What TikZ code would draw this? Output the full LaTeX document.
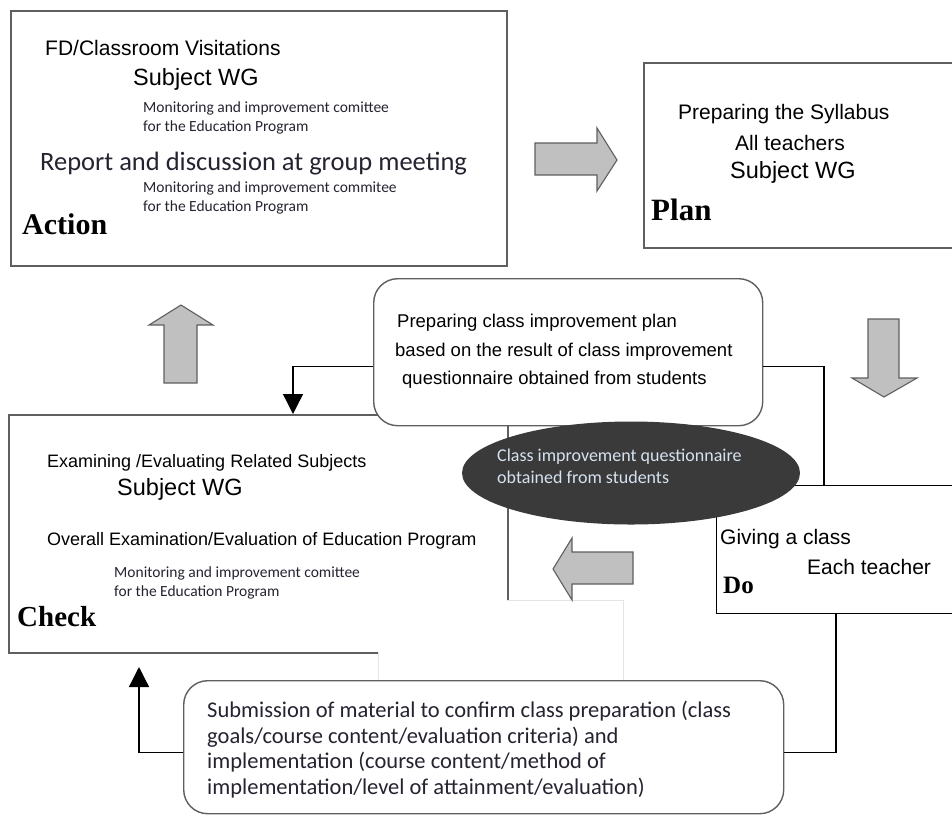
\documentclass[tikz,border=0pt]{standalone}
\usepackage{fontspec}
\setmainfont{Liberation Sans}
\newfontfamily\calfont{Carlito}
\newfontfamily\markfont{Liberation Serif}
\usetikzlibrary{arrows.meta, shapes.geometric}

\definecolor{arrowgray}{RGB}{192,192,192}
\definecolor{edgegray}{RGB}{95,95,95}
\definecolor{ovalgray}{RGB}{58,58,58}
\definecolor{ovaltext}{RGB}{214,226,240}
\definecolor{faintline}{RGB}{228,228,228}
\definecolor{caltext}{RGB}{38,34,48}

\tikzset{
  box/.style={draw=edgegray, line width=1.6pt, anchor=north west, inner sep=0pt},
  roundbox/.style={draw=edgegray, line width=1.4pt, fill=white, rounded corners=24pt, anchor=north west, inner sep=0pt},
  bigarrow/.style={draw=edgegray, line width=1.1pt, fill=arrowgray, line join=miter},
  conn/.style={line width=1.3pt},
  txt/.style={anchor=base west, inner sep=0pt, font=\fontsize{21}{25}\selectfont},
  small/.style={anchor=base west, inner sep=0pt, font=\fontsize{18}{22}\selectfont},
  wg/.style={anchor=base west, inner sep=0pt, font=\fontsize{23.5}{28}\selectfont},
  cal/.style={anchor=base west, inner sep=0pt, text=caltext, font=\calfont\fontsize{15.5}{19}\selectfont},
  phase/.style={anchor=base west, inner sep=0pt, font=\markfont\bfseries\fontsize{#1}{#1}\selectfont}
}

\begin{document}
\begin{tikzpicture}[x=1pt, y=-1pt]
  \useasboundingbox (0,0) rectangle (952,815);

  % the four PDCA boxes
  \node[box, minimum width=496pt, minimum height=255pt] (action) at (10,10) {};
  \node[box, minimum width=320pt, minimum height=185pt] (plan) at (643,62) {};
  \node[box, minimum width=499pt, minimum height=238pt] (check) at (8,414) {};
  \fill[white] (378,600) rectangle (623,682);
  \draw[faintline, line width=1pt] (507,600) -- (623,600) -- (623,682);
  \draw[faintline, line width=1pt] (378,652) -- (378,682);
  \node[box, draw=black, line width=1.3pt, minimum width=250pt, minimum height=128pt] (do) at (716,485) {};

  % big grey arrows
  \draw[bigarrow] (535,143) -- (597,143) -- (597,128) -- (617,160) -- (597,191) -- (597,175) -- (535,175) -- cycle;
  \draw[bigarrow] (868,319) -- (899,319) -- (899,378) -- (917,378) -- (884,397) -- (852,378) -- (868,378) -- cycle;
  \draw[bigarrow] (633,552) -- (572,552) -- (572,538) -- (553,569) -- (572,600) -- (572,584) -- (633,584) -- cycle;
  \draw[bigarrow] (164,383) -- (164,325) -- (149,325) -- (181,305) -- (213,325) -- (197,325) -- (197,383) -- cycle;

  % class improvement plan and questionnaire
  \node[roundbox, minimum width=389pt, minimum height=147pt] (prep) at (373,278) {};
  \node[ellipse, fill=ovalgray, minimum width=338pt, minimum height=103pt, inner sep=0pt] (quest) at (631,473) {};

  % Action
  \node[txt] (fd) at (45,55) {FD/Classroom Visitations};
  \node[wg] (awg) at (133,85) {Subject WG};
  \node[cal] (amon) at (143,112) {Monitoring and improvement comittee};
  \node[cal] (afor) at (143,131) {for the Education Program};
  \node[cal, font=\calfont\fontsize{26.5}{30}\selectfont] (report) at (40,170) {Report and discussion at group meeting};
  \node[cal] (amon2) at (143,192) {Monitoring and improvement commitee};
  \node[cal] (afor2) at (143,211) {for the Education Program};
  \node[phase=30] (actlbl) at (22,234) {Action};

  % Plan
  \node[txt] (syl) at (678,119) {Preparing the Syllabus};
  \node[txt] (allt) at (735,150) {All teachers};
  \node[wg] (pwg) at (730,178) {Subject WG};
  \node[phase=31] (planlbl) at (651,220) {Plan};

  % Check
  \node[small] (exam) at (47,467) {Examining /Evaluating Related Subjects};
  \node[wg] (cwg) at (117,495) {Subject WG};
  \node[small] (overall) at (47,545) {Overall Examination/Evaluation of Education Program};
  \node[cal] (cmon) at (114,577) {Monitoring and improvement comittee};
  \node[cal] (cfor) at (114,596) {for the Education Program};
  \node[phase=29] (chklbl) at (17,626) {Check};

  % Do
  \node[txt] (give) at (720,544) {Giving a class};
  \node[txt] (each) at (807,574) {Each teacher};
  \node[phase=25] (dolbl) at (723,593) {Do};

  % texts of the middle
  \node[small, font=\fontsize{18.5}{22}\selectfont] (prep1) at (397,327) {Preparing class improvement plan};
  \node[small, font=\fontsize{18.5}{22}\selectfont] (prep2) at (395,356) {based on the result of class improvement};
  \node[small, font=\fontsize{18.5}{22}\selectfont] (prep3) at (402,384) {questionnaire obtained from students};
  \node[cal, text=ovaltext, font=\calfont\fontsize{18}{22}\selectfont] (quest1) at (497,461) {Class improvement questionnaire};
  \node[cal, text=ovaltext, font=\calfont\fontsize{18}{22}\selectfont] (quest2) at (497,483) {obtained from students};

  % connectors
  \draw[conn, -{Triangle[length=20pt, width=20pt]}] ([yshift=-14pt]prep.west) -| ([xshift=285pt]check.north west);
  \draw[conn] ([yshift=-14pt]prep.east) -| ([xshift=108pt]do.north west);
  \node[roundbox, minimum width=600pt, minimum height=133pt] (sub) at (183,680) {};
  \coordinate (chkin) at (139,667);
  \draw[conn] ([xshift=120pt]do.south west) |- ([yshift=-5pt]sub.east);
  \draw[conn, -{Triangle[length=20pt, width=20pt]}] ([yshift=-5pt]sub.west) -| (chkin);

  % submission of material
  \node[cal, font=\calfont\fontsize{22.5}{26}\selectfont] (sub1) at (207,717) {Submission of material to confirm class preparation (class};
  \node[cal, font=\calfont\fontsize{22.5}{26}\selectfont] (sub2) at (207,743) {goals/course content/evaluation criteria) and};
  \node[cal, font=\calfont\fontsize{22.5}{26}\selectfont] (sub3) at (207,768) {implementation (course content/method of};
  \node[cal, font=\calfont\fontsize{22.5}{26}\selectfont] (sub4) at (207,794) {implementation/level of attainment/evaluation)};
\end{tikzpicture}
\end{document}
